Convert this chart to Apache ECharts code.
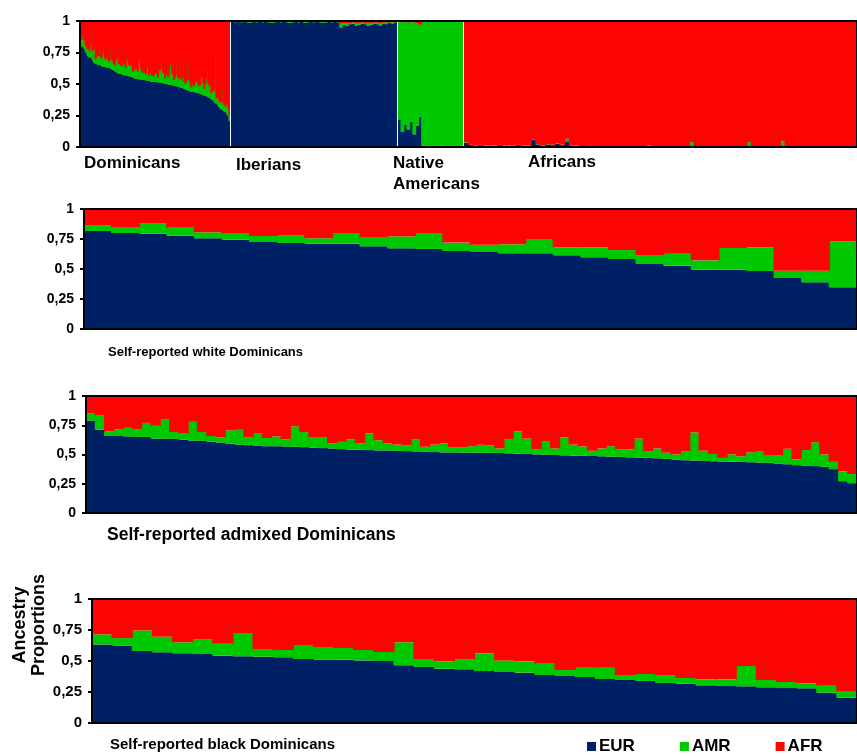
<!DOCTYPE html>
<html>
<head>
<meta charset="utf-8">
<script src="https://cdn.jsdelivr.net/npm/echarts@6/dist/echarts.min.js"></script>
<style>
  html, body { margin: 0; padding: 0; background: #fff; }
  #chart { width: 857px; height: 756px; }
</style>
</head>
<body>
<div id="chart"></div>
<script>
// ancestry proportions (EUR and AMR, AFR is the rest)
var whiteEUR = [0.817,0.80,0.794,0.778,0.756,0.744,0.725,0.717,0.711,0.711,0.689,0.672,0.667,0.65,0.642,0.631,0.631,0.614,0.597,0.583,0.542,0.528,0.494,0.494,0.483,0.425,0.389,0.347];
var whiteAMR = [0.044,0.05,0.084,0.066,0.05,0.05,0.05,0.061,0.045,0.089,0.072,0.10,0.127,0.07,0.061,0.075,0.113,0.067,0.084,0.075,0.075,0.10,0.078,0.181,0.198,0.061,0.097,0.384];

var admixedEUR = [0.79,0.711,0.658,0.658,0.655,0.65,0.65,0.636,0.636,0.633,
  0.627,0.619,0.616,0.608,0.602,0.591,0.585,0.58,0.577,0.571,
  0.571,0.569,0.566,0.563,0.557,0.555,0.552,0.546,0.541,0.541,
  0.538,0.535,0.535,0.532,0.529,0.527,0.524,0.521,0.518,0.518,
  0.517,0.516,0.515,0.514,0.513,0.51,0.507,0.504,0.501,0.499,
  0.496,0.493,0.49,0.489,0.487,0.485,0.482,0.479,0.476,0.473,
  0.471,0.468,0.462,0.457,0.451,0.448,0.445,0.443,0.44,0.439,
  0.437,0.434,0.431,0.429,0.423,0.417,0.409,0.403,0.401,0.395,
  0.375,0.272,0.255];
var admixedAMR = [0.064,0.121,0.039,0.056,0.073,0.067,0.12,0.109,0.162,0.059,
  0.051,0.16,0.076,0.05,0.045,0.115,0.126,0.064,0.101,0.07,
  0.084,0.061,0.174,0.129,0.087,0.089,0.045,0.062,0.089,0.056,
  0.143,0.087,0.059,0.053,0.051,0.1,0.042,0.064,0.076,0.045,
  0.046,0.055,0.068,0.063,0.039,0.117,0.19,0.132,0.045,0.111,
  0.056,0.154,0.095,0.08,0.045,0.067,0.089,0.067,0.067,0.163,
  0.058,0.084,0.053,0.044,0.078,0.241,0.087,0.061,0.031,0.062,
  0.048,0.084,0.093,0.067,0.067,0.132,0.05,0.135,0.204,0.106,
  0.062,0.084,0.078];

var blackEUR = [0.634,0.626,0.581,0.57,0.562,0.556,0.543,0.538,0.535,0.53,0.516,0.513,0.511,0.505,0.5,0.465,0.452,0.438,0.433,0.419,0.411,0.406,0.387,0.379,0.371,0.355,0.347,0.339,0.323,0.317,0.304,0.298,0.296,0.288,0.282,0.28,0.245,0.204];
var blackAMR = [0.081,0.059,0.166,0.126,0.089,0.121,0.097,0.182,0.062,0.059,0.113,0.1,0.094,0.084,0.073,0.186,0.064,0.057,0.08,0.143,0.094,0.091,0.091,0.048,0.075,0.091,0.04,0.056,0.061,0.046,0.048,0.054,0.164,0.059,0.049,0.04,0.056,0.049];

// reference populations (top panel)
var iberianEUR = [0.995,0.99,0.995,0.99,0.995,0.99,0.985,0.995,0.99,0.995,
  0.99,0.995,0.99,0.985,0.99,0.995,0.99,0.995,0.99,0.985,
  0.99,0.995,0.99,0.995,0.985,0.99,0.995,0.99,0.995,0.99,
  0.985,0.99,0.995,0.99,0.995,0.99,0.95,0.97,0.96,0.975,
  0.98,0.965,0.97,0.98,0.975,0.96,0.97,0.98,0.975,0.965,
  0.98,0.975,0.985,0.98,0.99];
var iberianAMR = [0.003,0.005,0.003,0.005,0.002,0.005,0.008,0.003,0.005,0.002,
  0.005,0.003,0.005,0.01,0.005,0.003,0.005,0.002,0.005,0.01,
  0.005,0.003,0.005,0.002,0.01,0.005,0.003,0.005,0.002,0.005,
  0.01,0.005,0.003,0.005,0.002,0.005,0.03,0.01,0.02,0.01,
  0.01,0.02,0.015,0.01,0.01,0.025,0.015,0.01,0.012,0.02,
  0.01,0.012,0.008,0.01,0.005];

var nativeEUR = [0.22,0.12,0.18,0.14,0.2,0.1,0.17,0.24,0.01,0.005,0.01,0.005,0.01,0.005,0.01,0.01,0.005,0.005,0.01,0.005,0.005,0.01];
var nativeAFR = [0.01,0.005,0.01,0.005,0.01,0.01,0.02,0.03,0.005,0,0.005,0,0.005,0,0,0.005,0,0,0.005,0,0,0.005];

var africanEUR = [0.035,0.015,0.012,0.015,0.01,0.012,0.01,0.015,0.012,0.01,
  0.012,0.015,0.01,0.012,0.055,0.02,0.012,0.02,0.015,0.025,
  0.015,0.045,0.012,0.01,0.005,0.004,0.006,0.004,0.003,0.004,
  0.003,0.004,0.003,0.003,0.004,0.003,0.003,0.004,0.003,0.003,
  0.004,0.003,0.003,0.004,0.003,0.003,0.004,0.003,0.003,0.004,
  0.003,0.003,0.004,0.003,0.003,0.004,0.003,0.003,0.004,0.003,
  0.003,0.004,0.003,0.003,0.004,0.003,0.003,0.004,0.003,0.003,
  0.004,0.003,0.003,0.004,0.003,0.003,0.004,0.003,0.003,0.004,
  0.003,0.003];
var africanAMR = [0.003,0.002,0.003,0.002,0.003,0.002,0.003,0.002,0.003,0.002,
  0.003,0.002,0.003,0.002,0.003,0.002,0.003,0.002,0.003,0.002,
  0.003,0.02,0.003,0.002,0.003,0.002,0.003,0.002,0.003,0.002,
  0.003,0.002,0.003,0.002,0.003,0.002,0.003,0.002,0.01,0.002,
  0.003,0.002,0.003,0.002,0.003,0.002,0.003,0.035,0.003,0.002,
  0.003,0.002,0.003,0.002,0.003,0.002,0.003,0.002,0.003,0.035,
  0.003,0.002,0.003,0.002,0.003,0.002,0.04,0.002,0.003,0.002,
  0.003,0.002,0.003,0.002,0.003,0.002,0.003,0.002,0.003,0.002,
  0.003,0.002];

var yTickLabels = ['0', '0,25', '0,5', '0,75', '1'];
var colors = { EUR: '#002065', AMR: '#00c800', AFR: '#fd0404' };
var FONT = "'Liberation Sans', Arial, sans-serif";

// top panel Dominicans: all self-reported groups pooled and sorted by EUR
var pooled = [];
[[whiteEUR, whiteAMR], [admixedEUR, admixedAMR], [blackEUR, blackAMR]].forEach(function (g) {
    g[0].forEach(function (e, i) { pooled.push([e, g[1][i]]); });
});
pooled.sort(function (a, b) { return b[0] - a[0]; });
var dominicanEUR = pooled.map(function (p) { return p[0]; });
var dominicanAMR = pooled.map(function (p) { return p[1]; });

var rest = function (a, b) {
    return a.map(function (v, i) { return +(1 - v - b[i]).toFixed(4); });
};

var grids = [], xAxes = [], yAxes = [], series = [];

var addPanel = function (grid, eur, amr, afr, yLabelSize) {
    var idx = grids.length;
    grids.push(grid);
    // bars a bit wider than their band so neighbours overlap (no antialias seams)
    var bw = grid.width / eur.length + 1;
    xAxes.push({
        gridIndex: idx, type: 'category', show: false,
        data: eur.map(function (v, i) { return i + 1; })
    });
    yAxes.push({
        gridIndex: idx, type: 'value', min: 0, max: 1, interval: 0.25,
        show: !!yLabelSize,
        splitLine: { show: false },
        axisLine: { show: true, lineStyle: { color: '#000', width: 2 } },
        axisTick: { show: true, length: 4, lineStyle: { color: '#000', width: 2 } },
        axisLabel: {
            color: '#000', fontWeight: 'bold', fontSize: yLabelSize || 12, fontFamily: FONT, margin: 10,
            formatter: function (v) { return yTickLabels[Math.round(v * 4)]; }
        }
    });
    [['EUR', eur], ['AMR', amr], ['AFR', afr]].forEach(function (s) {
        series.push({
            name: s[0], type: 'bar', stack: 'p' + idx,
            xAxisIndex: idx, yAxisIndex: idx,
            barWidth: bw,
            itemStyle: { color: colors[s[0]], borderWidth: 0 },
            data: s[1]
        });
    });
};

var frame = { show: true, borderColor: '#000', borderWidth: 2, backgroundColor: 'transparent', z: 5 };

// top panel, one grid per population, 1px white gap between them
addPanel({ left: 80, top: 21, width: 150, height: 126 }, dominicanEUR, dominicanAMR, rest(dominicanEUR, dominicanAMR), 14);
addPanel({ left: 231, top: 21, width: 166, height: 126 }, iberianEUR, iberianAMR, rest(iberianEUR, iberianAMR));
addPanel({ left: 398, top: 21, width: 65, height: 126 }, nativeEUR, rest(nativeEUR, nativeAFR), nativeAFR);
addPanel({ left: 464, top: 21, width: 400, height: 126 }, africanEUR, africanAMR, rest(africanEUR, africanAMR));
// frame over the top panel
grids.push(Object.assign({ left: 80, top: 21, width: 800, height: 126 }, frame));
xAxes.push({ gridIndex: grids.length - 1, type: 'value', show: false });
yAxes.push({ gridIndex: grids.length - 1, type: 'value', show: false });

addPanel(Object.assign({ left: 84, top: 209, width: 781, height: 120 }, frame), whiteEUR, whiteAMR, rest(whiteEUR, whiteAMR), 14);
addPanel(Object.assign({ left: 86, top: 396, width: 776, height: 117 }, frame), admixedEUR, admixedAMR, rest(admixedEUR, admixedAMR), 14);
addPanel(Object.assign({ left: 92, top: 599, width: 771, height: 124 }, frame), blackEUR, blackAMR, rest(blackEUR, blackAMR), 15);

var label = function (text, x, y, size) {
    return {
        type: 'text', x: x, y: y, z: 10,
        style: { text: text, font: 'bold ' + size + 'px ' + FONT, fill: '#000', textVerticalAlign: 'middle' }
    };
};

var option = {
    animation: false,
    grid: grids,
    xAxis: xAxes,
    yAxis: yAxes,
    series: series,
    legend: {
        data: ['EUR', 'AMR', 'AFR'],
        left: 582, top: 733,
        icon: 'rect', itemWidth: 9, itemHeight: 9, itemGap: 45,
        selectedMode: false,
        textStyle: { color: '#000', fontWeight: 'bold', fontSize: 17, fontFamily: FONT, padding: [0, 0, 0, -2] }
    },
    graphic: [
        label('Dominicans', 84, 163, 17),
        label('Iberians', 236, 165, 17),
        label('Native', 393, 163, 17),
        label('Americans', 393, 184, 17),
        label('Africans', 528, 162, 17),
        label('Self-reported white Dominicans', 108, 352, 13),
        label('Self-reported admixed Dominicans', 107, 535, 17.5),
        label('Self-reported black Dominicans', 110, 745, 15),
        {
            type: 'text', x: 30, y: 625, rotation: Math.PI / 2, z: 10,
            style: {
                text: 'Ancestry\nProportions', font: 'bold 18px ' + FONT, fill: '#000',
                textAlign: 'center', textVerticalAlign: 'middle', lineHeight: 19
            }
        }
    ]
};

var chart = echarts.init(document.getElementById('chart'), null, { renderer: 'canvas' });
chart.setOption(option);
</script>
</body>
</html>
